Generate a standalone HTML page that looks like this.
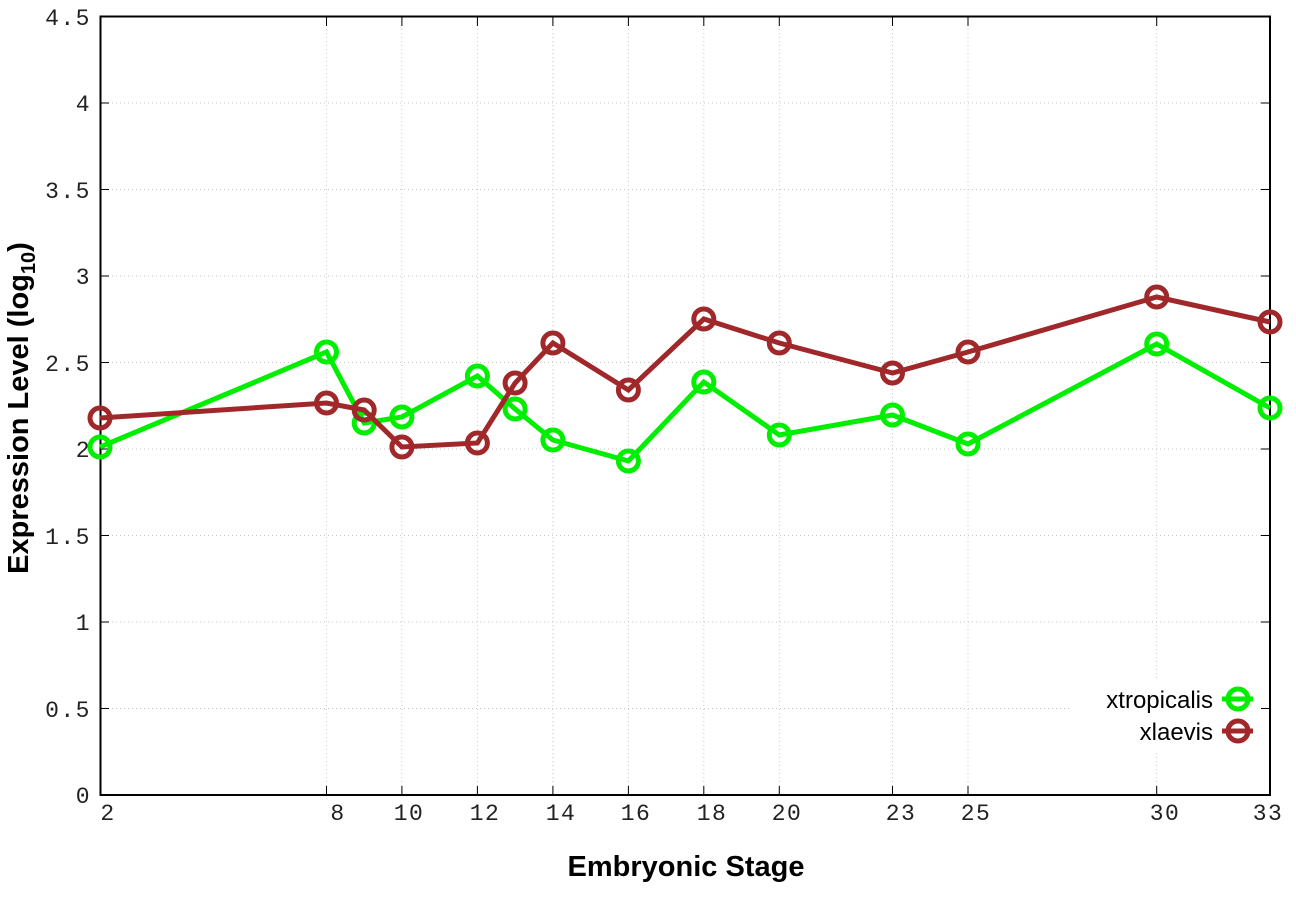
<!DOCTYPE html><html><head><style>body{margin:0;background:#fff}</style></head><body>
<svg width="1296" height="907" xmlns="http://www.w3.org/2000/svg">
<g stroke="#c8c8c8" stroke-dasharray="1,3" stroke-width="1">
<line x1="100" x2="1270" y1="708.5" y2="708.5"/><line x1="100" x2="1270" y1="622" y2="622"/><line x1="100" x2="1270" y1="535.5" y2="535.5"/><line x1="100" x2="1270" y1="449" y2="449"/><line x1="100" x2="1270" y1="362.5" y2="362.5"/><line x1="100" x2="1270" y1="276" y2="276"/><line x1="100" x2="1270" y1="189.5" y2="189.5"/><line x1="100" x2="1270" y1="103" y2="103"/>
<line x1="326.5" x2="326.5" y1="17" y2="795"/><line x1="401.9" x2="401.9" y1="17" y2="795"/><line x1="477.4" x2="477.4" y1="17" y2="795"/><line x1="552.9" x2="552.9" y1="17" y2="795"/><line x1="628.4" x2="628.4" y1="17" y2="795"/><line x1="703.8" x2="703.8" y1="17" y2="795"/><line x1="779.3" x2="779.3" y1="17" y2="795"/><line x1="892.5" x2="892.5" y1="17" y2="795"/><line x1="968" x2="968" y1="17" y2="795"/><line x1="1156.7" x2="1156.7" y1="17" y2="795"/>
</g>
<rect x="1070" y="678" width="199" height="72" fill="#fff"/>
<g stroke="#000" stroke-width="1">
<path d="M100 708.5h9M100 622h9M100 535.5h9M100 449h9M100 362.5h9M100 276h9M100 189.5h9M100 103h9M1270 708.5h-9M1270 622h-9M1270 535.5h-9M1270 449h-9M1270 362.5h-9M1270 276h-9M1270 189.5h-9M1270 103h-9"/>
<path d="M326.5 795v-9M401.9 795v-9M477.4 795v-9M552.9 795v-9M628.4 795v-9M703.8 795v-9M779.3 795v-9M892.5 795v-9M968 795v-9M1156.7 795v-9M326.5 17v9M401.9 17v9M477.4 17v9M552.9 17v9M628.4 17v9M703.8 17v9M779.3 17v9M892.5 17v9M968 17v9M1156.7 17v9"/>
</g>
<rect x="100.5" y="16.5" width="1169.5" height="778.5" fill="none" stroke="#000" stroke-width="2"/>
<g font-family="Liberation Mono, monospace" font-size="23" fill="#222" text-anchor="end" letter-spacing="1.5">
<text x="91" y="803">0</text><text x="91" y="717">0.5</text><text x="91" y="630">1</text><text x="91" y="544">1.5</text><text x="91" y="457">2</text><text x="91" y="371">2.5</text><text x="91" y="284">3</text><text x="91" y="198">3.5</text><text x="91" y="111">4</text><text x="91" y="25">4.5</text>
</g>
<g font-family="Liberation Mono, monospace" font-size="23" fill="#222" text-anchor="middle" letter-spacing="1.5">
<text x="108" y="820">2</text><text x="338" y="820">8</text><text x="409" y="820">10</text><text x="485" y="820">12</text><text x="561" y="820">14</text><text x="636" y="820">16</text><text x="712" y="820">18</text><text x="787" y="820">20</text><text x="901" y="820">23</text><text x="976" y="820">25</text><text x="1165" y="820">30</text><text x="1268" y="820">33</text>
</g>
<text x="686" y="876" text-anchor="middle" font-family="Liberation Sans, sans-serif" font-weight="bold" font-size="29">Embryonic Stage</text>
<text transform="translate(28,408) rotate(-90)" text-anchor="middle" font-family="Liberation Sans, sans-serif" font-weight="bold" font-size="29">Expression Level (log<tspan font-size="20" dy="7">10</tspan><tspan dy="-7">)</tspan></text>
<g fill="none" stroke-width="5">
<polyline stroke="#00ee00" points="100,447 326.5,352 364.2,423 401.9,417 477.4,376 515.1,409 552.9,440 628.4,461 703.8,382 779.3,435 892.5,415 968,444 1156.7,344 1270,408"/>
<g stroke="#00ee00"><circle cx="100" cy="447" r="10"/><circle cx="326.5" cy="352" r="10"/><circle cx="364.2" cy="423" r="10"/><circle cx="401.9" cy="417" r="10"/><circle cx="477.4" cy="376" r="10"/><circle cx="515.1" cy="409" r="10"/><circle cx="552.9" cy="440" r="10"/><circle cx="628.4" cy="461" r="10"/><circle cx="703.8" cy="382" r="10"/><circle cx="779.3" cy="435" r="10"/><circle cx="892.5" cy="415" r="10"/><circle cx="968" cy="444" r="10"/><circle cx="1156.7" cy="344" r="10"/><circle cx="1270" cy="408" r="10"/></g>
<polyline stroke="#a0282a" points="100,418 326.5,403 364.2,410 401.9,447 477.4,443 515.1,383 552.9,343 628.4,390 703.8,319 779.3,343 892.5,373 968,352 1156.7,297 1270,322"/>
<g stroke="#a0282a"><circle cx="100" cy="418" r="10"/><circle cx="326.5" cy="403" r="10"/><circle cx="364.2" cy="410" r="10"/><circle cx="401.9" cy="447" r="10"/><circle cx="477.4" cy="443" r="10"/><circle cx="515.1" cy="383" r="10"/><circle cx="552.9" cy="343" r="10"/><circle cx="628.4" cy="390" r="10"/><circle cx="703.8" cy="319" r="10"/><circle cx="779.3" cy="343" r="10"/><circle cx="892.5" cy="373" r="10"/><circle cx="968" cy="352" r="10"/><circle cx="1156.7" cy="297" r="10"/><circle cx="1270" cy="322" r="10"/></g>
<line x1="1222" x2="1253" y1="699" y2="699" stroke="#00ee00"/><circle cx="1238" cy="699" r="10" stroke="#00ee00"/>
<line x1="1222" x2="1253" y1="731" y2="731" stroke="#a0282a"/><circle cx="1238" cy="731" r="10" stroke="#a0282a"/>
</g>
<g font-family="Liberation Sans, sans-serif" font-size="24" fill="#000" text-anchor="end">
<text x="1213" y="708">xtropicalis</text><text x="1213" y="740">xlaevis</text>
</g>
</svg>
</body></html>
